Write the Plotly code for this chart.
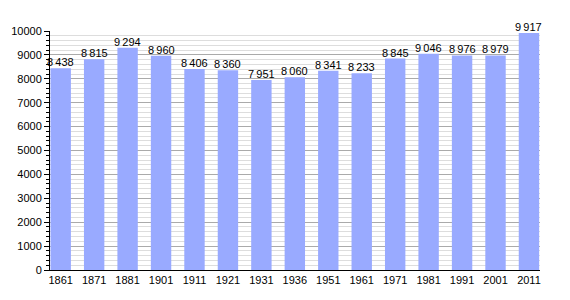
import plotly.graph_objects as go

years = ["1861", "1871", "1881", "1901", "1911", "1921", "1931", "1936",
         "1951", "1961", "1971", "1981", "1991", "2001", "2011"]
population = [8438, 8815, 9294, 8960, 8406, 8360, 7951, 8060,
              8341, 8233, 8845, 9046, 8976, 8979, 9917]

labels = [f"{v:,}".replace(",", "\u2009") for v in population]

fig = go.Figure()
fig.add_trace(go.Bar(
    x=years, y=population,
    width=0.61,
    marker=dict(color="#99aaff", line=dict(width=0)),
    hoverinfo="x+y",
))

for i, (v, lab) in enumerate(zip(population, labels)):
    fig.add_annotation(
        x=i, y=v, text=lab, showarrow=False,
        xanchor="center", yanchor="bottom", yshift=-2,
        font=dict(family="Liberation Sans, Arial", size=11, color="black"),
    )

fig.update_layout(
    width=570, height=300,
    margin=dict(l=50, r=30, t=31, b=30),
    paper_bgcolor="white", plot_bgcolor="white",
    showlegend=False,
    font=dict(family="Liberation Sans, Arial", size=11, color="black"),
    xaxis=dict(
        type="category", range=[-0.32, 14.33],
        showline=True, linecolor="black", linewidth=1,
        ticks="", showgrid=False, tickfont=dict(size=11),
    ),
    yaxis=dict(
        range=[0, 10000], dtick=1000, tickformat="d",
        showline=True, linecolor="black", linewidth=1,
        ticks="outside", ticklen=5, tickcolor="black",
        showgrid=True, gridcolor="#aaaaaa", gridwidth=1,
        zeroline=False,
        minor=dict(dtick=200, showgrid=True, gridcolor="#dddddd",
                   ticks="outside", ticklen=3, tickcolor="black"),
        tickfont=dict(size=11),
    ),
)

fig.write_html("out.html")
